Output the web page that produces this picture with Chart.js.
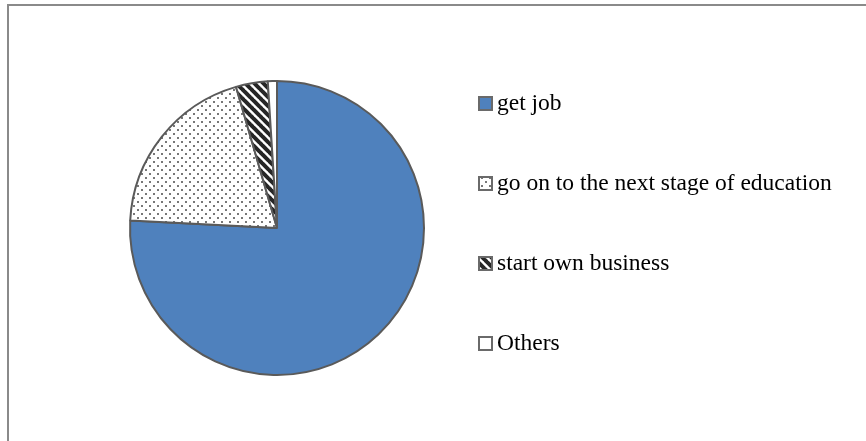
<!DOCTYPE html>
<html><head><meta charset="utf-8">
<script src="https://cdn.jsdelivr.net/npm/chart.js@4/dist/chart.umd.min.js"></script>
<style>
html,body{margin:0;padding:0;background:#fff;}
#wrap{position:relative;width:866px;height:441px;overflow:hidden;}
#frame{position:absolute;left:7px;top:4px;width:900px;height:500px;border:2px solid #8a8a8a;box-sizing:border-box;}
canvas{position:absolute;left:0;top:0;}
</style></head><body>
<div id="wrap"><div id="frame"></div><canvas id="c" width="866" height="441"></canvas></div>
<script>
const categories = ["get job", "go on to the next stage of education", "start own business", "Others"];
const values = [75.8, 19.7, 3.5, 1.0];

function dotPattern() {
  const t = document.createElement('canvas'); t.width = 8; t.height = 8;
  const g = t.getContext('2d');
  g.fillStyle = '#fff'; g.fillRect(0, 0, 8, 8);
  g.fillStyle = '#777777';
  g.fillRect(1, 1, 2, 2); g.fillRect(5, 5, 2, 2);
  return g.createPattern(t, 'repeat');
}
function hatchPattern() {
  const s = 9;
  const t = document.createElement('canvas'); t.width = s; t.height = s;
  const g = t.getContext('2d');
  g.fillStyle = '#fff'; g.fillRect(0, 0, s, s);
  g.strokeStyle = '#262626'; g.lineWidth = 4;
  for (const x0 of [-s, 0, s]) {
    g.beginPath(); g.moveTo(x0 - 1, -1); g.lineTo(x0 + s + 1, s + 1); g.stroke();
  }
  return g.createPattern(t, 'repeat');
}
const fills = ['#4f81bd', dotPattern(), hatchPattern(), '#ffffff'];

const legendPlugin = {
  id: 'customLegend',
  afterDraw(chart) {
    const ctx = chart.ctx;
    ctx.save();
    ctx.font = '23.5px "Liberation Serif", "Times New Roman", serif';
    ctx.textBaseline = 'middle';
    categories.forEach((lab, i) => {
      const y = 103 + i * 80;
      ctx.fillStyle = fills[i];
      ctx.fillRect(479, y - 6, 13, 13);
      ctx.strokeStyle = '#6a6a6a'; ctx.lineWidth = 2;
      ctx.strokeRect(479, y - 6, 13, 13);
      ctx.fillStyle = '#000';
      ctx.fillText(lab, 497, y + 1);
    });
    ctx.restore();
  }
};

new Chart(document.getElementById('c'), {
  type: 'pie',
  data: {
    labels: categories,
    datasets: [{
      data: values,
      backgroundColor: fills,
      borderColor: '#5a5a5a',
      borderWidth: 2
    }]
  },
  options: {
    responsive: false,
    animation: false,
    layout: { padding: { left: 129, top: 80, right: 441, bottom: 65 } },
    plugins: { legend: { display: false }, tooltip: { enabled: false } }
  },
  plugins: [legendPlugin]
});
</script>
</body></html>
